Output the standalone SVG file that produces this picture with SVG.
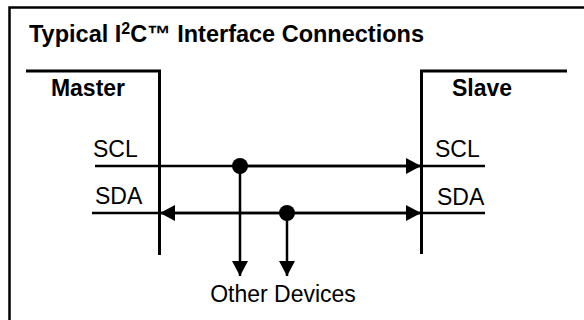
<svg xmlns="http://www.w3.org/2000/svg" width="584" height="320" viewBox="0 0 584 320">
<style>
.t{font-family:"Liberation Sans",Arial,sans-serif;font-size:23px;fill:#000}
.b{font-weight:bold}
.ttl{font-size:23.5px}
.sup{font-size:16px}
.ln{fill:none;stroke:#000;stroke-width:2.5}
.box{fill:none;stroke:#000;stroke-width:3}
</style>
<defs>
<marker id="ah" viewBox="0 0 15 16" refX="15" refY="8" markerWidth="15" markerHeight="16" markerUnits="userSpaceOnUse" orient="auto">
<path d="M0,0 L15,8 L0,16 Z" fill="#000"/>
</marker>
</defs>
<rect width="584" height="320" fill="#fff"/>
<g id="frame">
<path class="ln" d="M9.5 320 V7.5 H584"/>
<text class="t b ttl" x="29" y="42">Typical I<tspan class="sup" dy="-8">2</tspan><tspan dy="8">C™ Interface Connections</tspan></text>
</g>
<g id="master">
<path class="box" d="M26 71 H159.5 V255"/>
<text class="t b" x="88" y="96" text-anchor="middle">Master</text>
<text class="t" x="93" y="157">SCL</text>
<text class="t" x="95" y="204">SDA</text>
</g>
<g id="slave">
<path class="box" d="M567 71 H421.5 V254"/>
<text class="t b" x="482" y="96" text-anchor="middle">Slave</text>
<text class="t" x="435" y="157">SCL</text>
<text class="t" x="437" y="205">SDA</text>
</g>
<g id="other-devices">
<text class="t" x="283" y="302" text-anchor="middle">Other Devices</text>
</g>
<g id="connectors">
<line class="ln" x1="95" y1="166" x2="485" y2="166"/>
<line class="ln" x1="92" y1="213" x2="485" y2="213"/>
<line class="ln" x1="240" y1="166" x2="421" y2="166" marker-end="url(#ah)"/>
<line class="ln" x1="287" y1="213" x2="421" y2="213" marker-end="url(#ah)"/>
<line class="ln" x1="287" y1="213" x2="160" y2="213" marker-end="url(#ah)"/>
<line class="ln" x1="240" y1="166" x2="240" y2="276" marker-end="url(#ah)"/>
<line class="ln" x1="287" y1="213" x2="287" y2="276" marker-end="url(#ah)"/>
<circle cx="240" cy="166" r="8" fill="#000"/>
<circle cx="287" cy="213" r="8" fill="#000"/>
</g>
</svg>
